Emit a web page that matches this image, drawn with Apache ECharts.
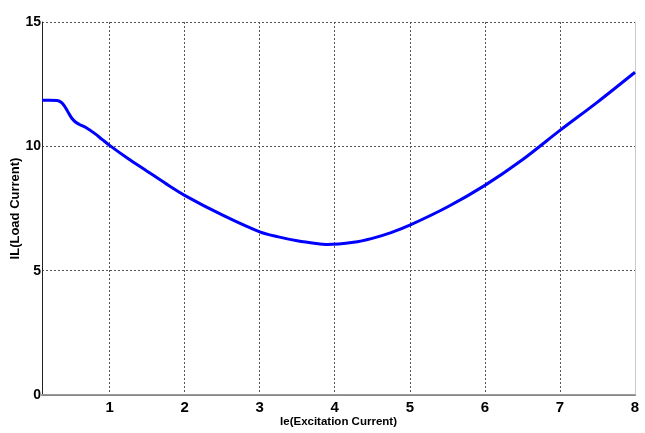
<!DOCTYPE html>
<html>
<head>
<meta charset="utf-8">
<script src="https://cdn.jsdelivr.net/npm/echarts@6/dist/echarts.min.js"></script>
<style>html,body{margin:0;padding:0;background:#fff;}#c{width:645px;height:433px;}</style>
</head>
<body>
<div id="c"></div>
<script>
var xValues = [0.1,0.2,0.3,0.35,0.4,0.45,0.5,0.55,0.6,0.7,0.8,0.9,1.0,1.25,1.5,1.75,2,2.5,3,3.25,3.5,3.75,3.9,4.25,4.5,4.75,5,5.5,6,6.5,7,7.5,8];
var yValues = [11.85,11.85,11.84,11.78,11.62,11.36,11.12,10.97,10.88,10.73,10.52,10.28,10.04,9.5,9.0,8.5,8.03,7.24,6.56,6.36,6.2,6.09,6.05,6.14,6.3,6.53,6.83,7.56,8.43,9.46,10.64,11.78,12.98];
var yTicks = [0,5,10,15];
var xName = 'Ie(Excitation Current)';
var yName = 'IL(Load Current)';

var pts = xValues.map(function(x,i){return [x, yValues[i]];});
var font = '"Liberation Sans", Arial, sans-serif';
var chart = echarts.init(document.getElementById('c'), null, {renderer:'canvas'});
chart.setOption({
  animation:false,
  backgroundColor:'#fff',
  grid:{left:42,right:10,top:22,bottom:38,containLabel:false,outerBoundsMode:'none'},
  xAxis:[{
    type:'value', min:0.1, max:8, splitNumber:8,
    name:xName, nameLocation:'middle', nameGap:21, nameMoveOverlap:false,
    nameTextStyle:{fontFamily:font,fontWeight:'bold',fontSize:11.5,color:'#000'},
    axisLine:{show:true,lineStyle:{color:'#999',width:2}},
    axisTick:{show:false},
    axisLabel:{fontFamily:font,fontWeight:'bold',fontSize:15,color:'#000',margin:5,
      formatter:function(v){return v<1?'':String(v);}},
    splitLine:{show:true,lineStyle:{color:'#555',type:[2,2],width:1}}
  },{
    type:'value', position:'top', min:0.1, max:8,
    axisLine:{show:true,lineStyle:{color:'#888',width:1}},
    axisTick:{show:false}, axisLabel:{show:false}, splitLine:{show:false}
  }],
  yAxis:[{
    type:'value', min:yTicks[0], max:yTicks[yTicks.length-1], interval:5,
    name:yName, nameLocation:'middle', nameGap:20, nameRotate:90, nameMoveOverlap:false,
    nameTextStyle:{fontFamily:font,fontWeight:'bold',fontSize:13,color:'#000'},
    axisLine:{show:true,lineStyle:{color:'#222',width:1}},
    axisTick:{show:false},
    axisLabel:{fontFamily:font,fontWeight:'bold',fontSize:14,color:'#000',margin:1},
    splitLine:{show:true,lineStyle:{color:'#555',type:[2,2],width:1}}
  },{
    type:'value', position:'right', min:0, max:15,
    axisLine:{show:true,lineStyle:{color:'#ccc',width:1}},
    axisTick:{show:false}, axisLabel:{show:false}, splitLine:{show:false}
  }],
  series:[{
    type:'line', data:pts, smooth:0.3, showSymbol:false,
    lineStyle:{color:'#0000ff',width:3}
  }]
});
</script>
</body>
</html>
